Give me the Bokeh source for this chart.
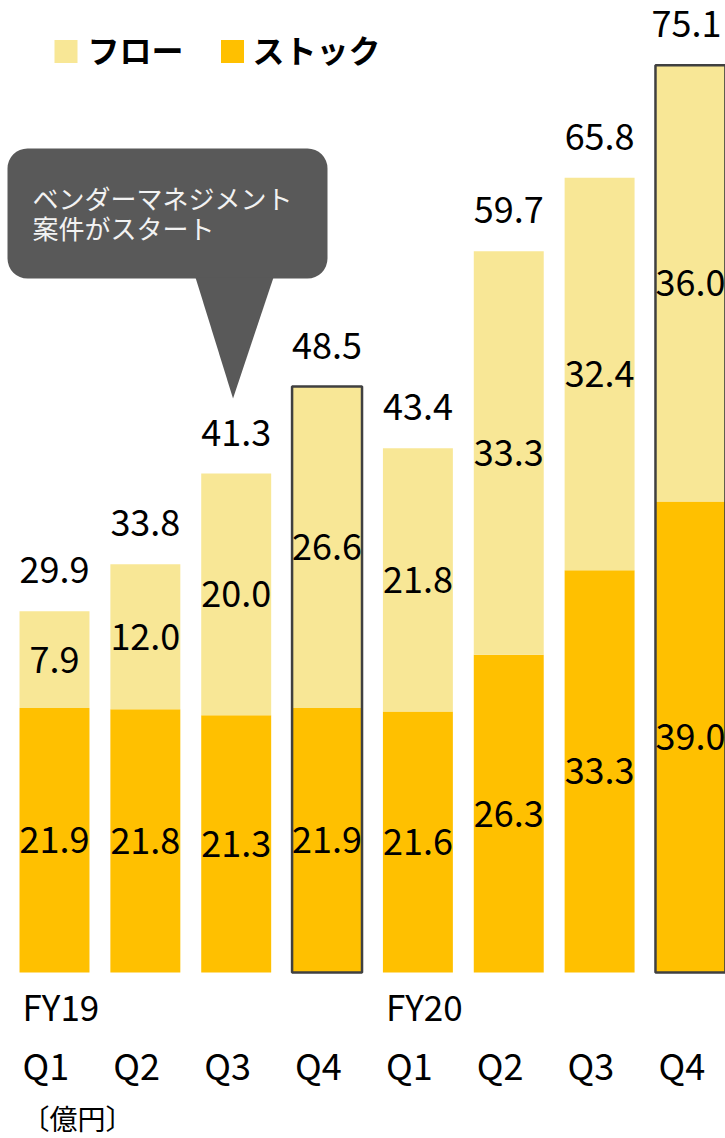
from bokeh.plotting import figure
from bokeh.models import ColumnDataSource, Range1d, BoxAnnotation
from bokeh.core.properties import value
from bokeh.embed import file_html
from bokeh.resources import INLINE

# ---- data ----
fiscal_years = ["FY19", "", "", "", "FY20", "", "", ""]
quarters = ["Q1", "Q2", "Q3", "Q4", "Q1", "Q2", "Q3", "Q4"]
stock = [21.9, 21.8, 21.3, 21.9, 21.6, 26.3, 33.3, 39.0]
flow = [7.9, 12.0, 20.0, 26.6, 21.8, 33.3, 32.4, 36.0]
totals = [29.9, 33.8, 41.3, 48.5, 43.4, 59.7, 65.8, 75.1]
highlight = [False, False, False, True, False, False, False, True]
series_names = ["フロー", "ストック"]
unit_label = "〔億円〕"
callout_lines = ["ベンダーマネジメント", "案件がスタート"]
callout_index = 2

# ---- style ----
FLOW_C = "#F8E796"
STOCK_C = "#FFC000"
OUT_C = "#404040"
FONT = "Noto Sans CJK JP"
W, H = 725, 1138
STEP = 90.85      # px per category
UNIT = 12.08      # px per value unit
X0 = 54           # px of first bar centre
BASE = 972        # px of baseline from top
BAR_W = 0.77
LABEL_HALF_W = 35  # approx half width of a total label in px

xs = list(range(len(quarters)))
x_start = -X0 / STEP
x_end = (W - X0) / STEP
y_start = -(H - BASE) / UNIT
y_end = BASE / UNIT


def px_x(img_x):
    return (img_x - X0) / STEP


def px_y(img_y):
    return (BASE - img_y) / UNIT


# keep the total labels inside the right edge
total_dx = [min(0.0, (W - 4) - (X0 + x * STEP + LABEL_HALF_W)) for x in xs]

src = ColumnDataSource(dict(
    x=xs, stock=stock, flow=flow, total=totals,
    stock_mid=[s / 2 for s in stock],
    flow_mid=[(s + t) / 2 for s, t in zip(stock, totals)],
    stock_lbl=[f"{v:.1f}" for v in stock],
    flow_lbl=[f"{v:.1f}" for v in flow],
    total_lbl=[f"{v:.1f}" for v in totals],
    total_dx=total_dx,
    fy=fiscal_years, q=quarters,
    left=[x - BAR_W / 2 for x in xs],
    zero=[0] * len(xs),
))

p = figure(width=W, height=H, x_range=Range1d(x_start, x_end),
           y_range=Range1d(y_start, y_end), output_backend="svg",
           toolbar_location=None, min_border=0,
           x_axis_location=None, y_axis_location=None)
p.grid.visible = False
p.outline_line_color = None
p.background_fill_color = "white"

# bars
p.vbar(x="x", bottom=0, top="stock", width=BAR_W, source=src,
       fill_color=STOCK_C, line_color=None)
p.vbar(x="x", bottom="stock", top="total", width=BAR_W, source=src,
       fill_color=FLOW_C, line_color=None)

hx = [x for x, h in zip(xs, highlight) if h]
ht = [t for t, h in zip(totals, highlight) if h]
p.vbar(x=hx, bottom=0, top=ht, width=BAR_W, fill_color=None,
       line_color=OUT_C, line_width=2.5)

# value labels
common = dict(text_font=value(FONT), text_font_size="36px", text_color="black",
              text_align="center", text_baseline="middle", source=src)
p.text(x="x", y="stock_mid", text="stock_lbl", **common)
p.text(x="x", y="flow_mid", text="flow_lbl", **common)
p.text(x="x", y="total", text="total_lbl", y_offset=-41, x_offset="total_dx",
       **common)

# category labels
p.text(x="left", y="zero", text="fy", text_font=value(FONT), text_font_size="35px",
       text_align="left", text_baseline="middle", x_offset=3, y_offset=33,
       text_color="black", source=src)
p.text(x="left", y="zero", text="q", text_font=value(FONT), text_font_size="36px",
       text_align="left", text_baseline="middle", x_offset=3, y_offset=91,
       text_color="black", source=src)
p.text(x=[xs[0] - BAR_W / 2], y=[0], text=[unit_label], text_font=value(FONT),
       text_font_size="28px", text_align="left", text_baseline="middle",
       x_offset=2, y_offset=145, text_color="black")

# legend
p.rect(x=[px_x(65.5), px_x(232)], y=[px_y(51), px_y(51)], width=23, height=23,
       width_units="screen", height_units="screen",
       fill_color=[FLOW_C, STOCK_C], line_color=None)
p.text(x=[px_x(87), px_x(252)], y=[px_y(48), px_y(48)], text=series_names,
       text_font=value(FONT), text_font_size="32px", text_font_style="bold",
       text_align="left", text_baseline="middle", text_color="black")

# callout
box = BoxAnnotation(left=px_x(7), right=px_x(327), top=px_y(148), bottom=px_y(278),
                    fill_color="#595959", fill_alpha=1.0, line_color=None,
                    border_radius=20, level="underlay")
p.add_layout(box)
tip_x = callout_index - 0.035
p.patch(x=[px_x(195), px_x(273), tip_x], y=[px_y(277), px_y(277), px_y(398)],
        fill_color="#595959", line_color=None)
p.text(x=[px_x(32), px_x(32)], y=[px_y(197), px_y(227)], text=callout_lines,
       text_font=value(FONT), text_font_size="26px", text_align="left",
       text_baseline="middle", text_color="#F2F2F2")

open("out.html", "w").write(file_html(p, INLINE))
